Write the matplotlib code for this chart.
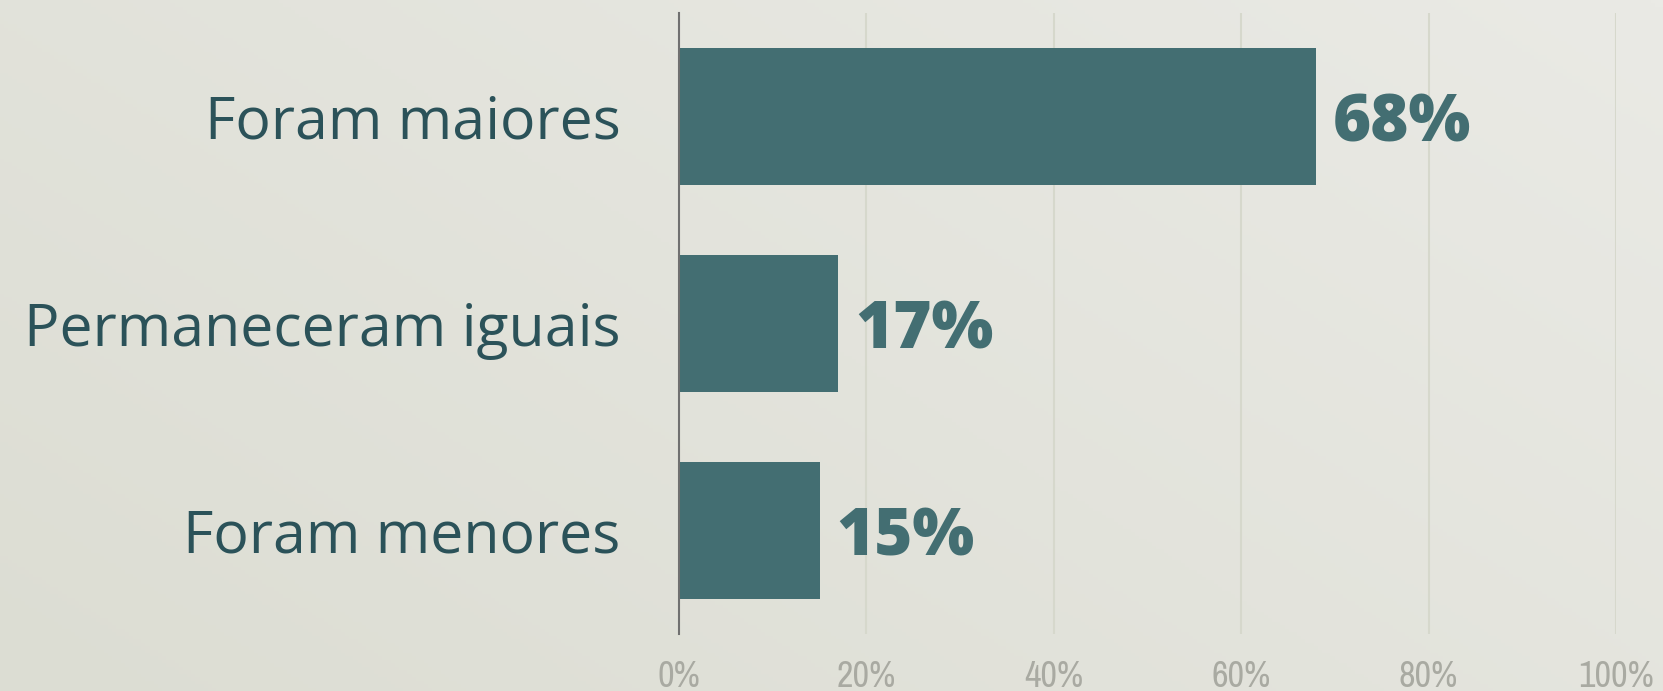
import numpy as np
import matplotlib.pyplot as plt
from matplotlib import font_manager
from matplotlib.colors import LinearSegmentedColormap

# data
categories = ["Foram maiores", "Permaneceram iguais", "Foram menores"]
values = [68, 17, 15]
x_ticks = [0, 20, 40, 60, 80, 100]
x_tick_labels = ["0%", "20%", "40%", "60%", "80%", "100%"]

BAR_COLOR = "#436e72"
LABEL_COLOR = "#2b5259"
TICK_COLOR = "#a9aaa2"
GRID_COLOR = "#d6d8cc"

# narrow face for the tick labels, if there is one
tick_props = dict(family="DejaVu Sans", stretch="condensed")
for f in font_manager.fontManager.ttflist:
    if "Narrow" in f.name:
        tick_props = dict(family=f.name)
        break

fig = plt.figure(figsize=(16.63, 6.91), dpi=100)

# background gradient (light top-right, slightly darker bottom-left)
bg = fig.add_axes([0, 0, 1, 1], zorder=-10)
gx, gy = np.meshgrid(np.linspace(0, 1, 400), np.linspace(0, 1, 200))
grad = (gx * 0.6 + gy * 0.4)
cmap = LinearSegmentedColormap.from_list("bg", ["#dcddd3", "#eaeae5"])
bg.imshow(grad, cmap=cmap, aspect="auto", origin="lower", extent=[0, 1, 0, 1])
bg.axis("off")

ax = fig.add_axes([0.4083, 0.0825, 0.5634, 0.8987])
ax.patch.set_alpha(0)

y = np.arange(len(categories))
ax.barh(y, values, height=0.66, color=BAR_COLOR, zorder=3)

for yi, v in zip(y, values):
    ax.text(v + 1.8, yi + 0.04, f"{v}%", va="center", ha="left",
            fontsize=47, fontweight=800, color=BAR_COLOR, family="Open Sans")

ax.set_xlim(0, 100)
ax.set_ylim(len(categories) - 0.5, -0.5)
ax.set_yticks(y)
ax.set_yticklabels(categories, fontsize=42.5, color=LABEL_COLOR, family="Open Sans")
ax.set_xticks(x_ticks)
ax.set_xticklabels(x_tick_labels, fontsize=26, color=TICK_COLOR, **tick_props)
ax.tick_params(axis="y", length=0, pad=42)
ax.tick_params(axis="x", length=0, pad=19)

ax.grid(axis="x", color=GRID_COLOR, linewidth=1.5, zorder=0)
for s in ["top", "right", "bottom"]:
    ax.spines[s].set_visible(False)
ax.spines["left"].set_color("#707070")
ax.spines["left"].set_linewidth(1.5)
ax.spines["left"].set_zorder(4)

fig.savefig("out.png", dpi=100)
